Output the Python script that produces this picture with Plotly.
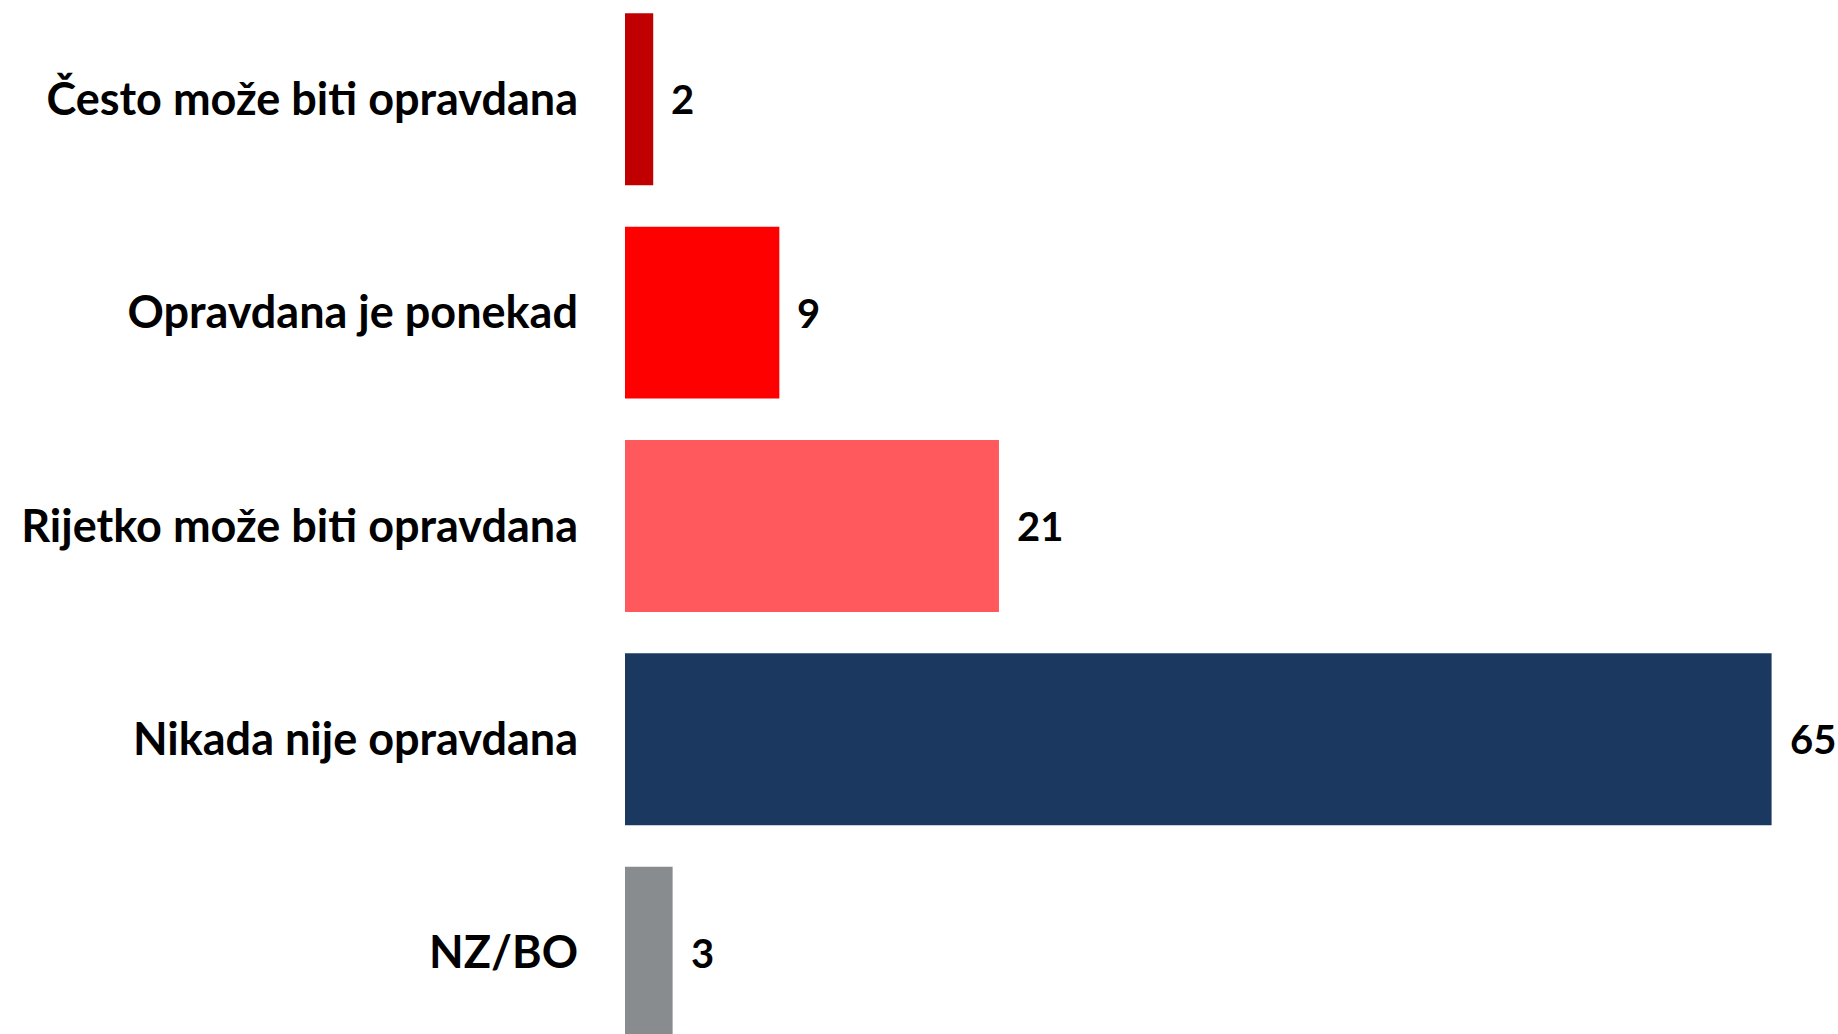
import plotly.graph_objects as go

categories = ["Često može biti opravdana", "Opravdana je ponekad", "Rijetko može biti opravdana",
              "Nikada nije opravdana", "NZ/BO"]
values = [1.6, 8.75, 21.2, 65.0, 2.7]
labels = ["2", "9", "21", "65", "3"]
colors = ["#C00000", "#FF0000", "#FF595E", "#1A3860", "#898C8F"]

W, H = 1838, 1034
left = 625
px_per_unit = 17.64
x_max = (W - left) / px_per_unit

pitch = 213.33
first_center = 99.3
y_top = -first_center / pitch
y_bot = y_top + H / pitch

FONT = "Lato"

fig = go.Figure()
fig.add_trace(go.Bar(
    y=categories, x=values, orientation="h",
    marker=dict(color=colors, line=dict(width=0)),
    width=0.806, hoverinfo="skip",
))

for c, v, t in zip(categories, values, labels):
    fig.add_annotation(x=v, y=c, text=t, showarrow=False, xanchor="left", yanchor="middle",
                       xshift=16, font=dict(family=FONT, size=40, color="#000000", weight="bold"))

fig.update_layout(
    width=W, height=H,
    margin=dict(l=left, r=0, t=0, b=0, pad=0),
    paper_bgcolor="white", plot_bgcolor="white",
    showlegend=False,
    font=dict(family=FONT, color="#000000"),
    xaxis=dict(range=[0, x_max], visible=False, fixedrange=True),
    yaxis=dict(range=[y_bot, y_top], type="category", showgrid=False, zeroline=False,
               showline=False, ticks="", ticklabelstandoff=46, fixedrange=True,
               tickfont=dict(family=FONT, size=45, color="#000000", weight="bold")),
)

fig.write_html(
    "out.html",
    config={"displayModeBar": False},
    post_script="document.body.style.margin='0';document.body.style.overflow='hidden';",
)
